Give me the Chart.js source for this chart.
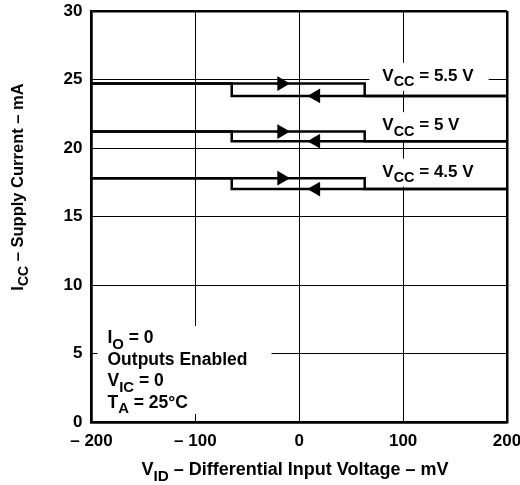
<!DOCTYPE html>
<html>
<head>
<meta charset="utf-8">
<script src="https://cdn.jsdelivr.net/npm/chart.js@4"></script>
<style>
  html, body { margin: 0; padding: 0; background: #fff; }
  #wrap { width: 520px; height: 485px; position: relative; }
</style>
</head>
<body>
<div id="wrap"><canvas id="myChart" width="520" height="485"></canvas></div>
<script>
// supply voltage curves (hysteresis loops)
const vccLabels = ['5.5', '5', '4.5'];
const iccHigh = [24.7, 21.2, 17.8];
const iccLow = [23.8, 20.5, 17.0];
const labelY = [24.9, 21.3, 17.9];
const vidRise = 63;
const vidFall = -65;
const arrowRightX = -17;
const arrowLeftX = 16;
const labelX = 80;

const xTicks = [-200, -100, 0, 100, 200];
const yTicks = [0, 5, 10, 15, 20, 25, 30];

const FONT = '"Liberation Sans", Arial, sans-serif';

var datasets = [];
for (let i = 0; i < vccLabels.length; i++) {
  // going right: stays high until vidRise
  datasets.push({
    data: [
      {x: -200, y: iccHigh[i]}, {x: vidRise, y: iccHigh[i]},
      {x: vidRise, y: iccLow[i]}, {x: 200, y: iccLow[i]}
    ],
    showLine: true, borderColor: '#000', borderWidth: 2.5, pointRadius: 0
  });
  // going left: stays low until vidFall
  datasets.push({
    data: [
      {x: 200, y: iccLow[i]}, {x: vidFall, y: iccLow[i]},
      {x: vidFall, y: iccHigh[i]}, {x: -200, y: iccHigh[i]}
    ],
    showLine: true, borderColor: '#000', borderWidth: 2.5, pointRadius: 0
  });
  datasets.push({
    data: [{x: arrowRightX, y: iccHigh[i]}],
    pointStyle: 'triangle', rotation: 90, pointRadius: 8.5,
    backgroundColor: '#000', borderColor: '#000', borderWidth: 0
  });
  datasets.push({
    data: [{x: arrowLeftX, y: iccLow[i]}],
    pointStyle: 'triangle', rotation: -90, pointRadius: 8.5,
    backgroundColor: '#000', borderColor: '#000', borderWidth: 0
  });
}

function richWidth(ctx, segs, size) {
  let w = 0;
  for (let s of segs) {
    ctx.font = 'bold ' + (s.sub ? size * 0.85 : size) + 'px ' + FONT;
    w += ctx.measureText(s.t).width;
  }
  return w;
}

function drawRich(ctx, segs, x, y, size) {
  let cx = x;
  ctx.textAlign = 'left';
  ctx.textBaseline = 'alphabetic';
  for (let s of segs) {
    ctx.font = 'bold ' + (s.sub ? size * 0.85 : size) + 'px ' + FONT;
    ctx.fillText(s.t, cx, y + (s.sub ? size * 0.32 : 0));
    cx += ctx.measureText(s.t).width;
  }
  return cx - x;
}

const noteLines = [
  [{t: 'I'}, {t: 'O', sub: true}, {t: ' = 0'}],
  [{t: 'Outputs Enabled'}],
  [{t: 'V'}, {t: 'IC', sub: true}, {t: ' = 0'}],
  [{t: 'T'}, {t: 'A', sub: true}, {t: ' = 25\u00B0C'}]
];

const textPlugin = {
  id: 'textPlugin',
  beforeDatasetsDraw(chart) {
    const ctx = chart.ctx;
    const xs = chart.scales.x, ys = chart.scales.y;
    ctx.save();
    ctx.fillStyle = '#fff';
    // white gaps behind the curve labels
    for (let i = 0; i < vccLabels.length; i++) {
      const segs = [{t: 'V'}, {t: 'CC', sub: true}, {t: ' = ' + vccLabels[i] + ' V'}];
      const px = xs.getPixelForValue(labelX);
      const py = ys.getPixelForValue(labelY[i]);
      const w = richWidth(ctx, segs, 17);
      ctx.fillRect(px - 13, py - 18, w + 28, 28);
    }
    // white gap behind the conditions block
    const a = chart.chartArea;
    ctx.fillRect(a.left + 6, a.bottom - 96, 174, 88);
    ctx.restore();
  },
  afterDatasetsDraw(chart) {
    const ctx = chart.ctx;
    const xs = chart.scales.x, ys = chart.scales.y;
    const a = chart.chartArea;
    ctx.save();
    ctx.fillStyle = '#000';
    for (let i = 0; i < vccLabels.length; i++) {
      const segs = [{t: 'V'}, {t: 'CC', sub: true}, {t: ' = ' + vccLabels[i] + ' V'}];
      drawRich(ctx, segs, xs.getPixelForValue(labelX), ys.getPixelForValue(labelY[i]), 17);
    }
    for (let j = 0; j < noteLines.length; j++) {
      drawRich(ctx, noteLines[j], a.left + 16, a.bottom - 79 + j * 21.5, 17.5);
    }
    // x axis title
    const xt = [{t: 'V'}, {t: 'ID', sub: true}, {t: ' \u2013 Differential Input Voltage \u2013 mV'}];
    const xw = richWidth(ctx, xt, 18);
    drawRich(ctx, xt, 295 - xw / 2, 475, 18);
    // y axis title
    const yt = [{t: 'I'}, {t: 'CC', sub: true}, {t: ' \u2013 Supply Current \u2013 mA'}];
    const yw = richWidth(ctx, yt, 16.5);
    ctx.translate(23, 187);
    ctx.rotate(-Math.PI / 2);
    drawRich(ctx, yt, -yw / 2, 0, 16.5);
    ctx.restore();
  }
};

function edgeWidth(ctx, min, max) {
  const v = ctx.tick ? ctx.tick.value : null;
  return (v === min || v === max) ? 2.5 : 1;
}

var chart = new Chart(document.getElementById('myChart').getContext('2d'), {
  type: 'scatter',
  data: { datasets: datasets },
  options: {
    responsive: false,
    animation: false,
    layout: { padding: { top: 11, right: 13, bottom: 0, left: 0 } },
    plugins: { legend: { display: false }, tooltip: { enabled: false } },
    scales: {
      x: {
        type: 'linear', min: -200, max: 200,
        afterBuildTicks: function(axis) { axis.ticks = xTicks.map(v => ({value: v})); },
        afterFit: function(axis) {
          axis.height = 63;
          axis.paddingLeft = 0;
          axis.paddingRight = 0;
        },
        grid: { color: '#000', lineWidth: c => edgeWidth(c, -200, 200), drawTicks: false },
        border: { color: '#000', width: 2.5 },
        ticks: {
          autoSkip: false, maxRotation: 0, padding: 9, color: '#000',
          font: { family: FONT, size: 17, weight: 'bold' },
          callback: v => v < 0 ? '\u2013 ' + Math.abs(v) : String(v)
        }
      },
      y: {
        type: 'linear', min: 0, max: 30,
        afterBuildTicks: function(axis) { axis.ticks = yTicks.map(v => ({value: v})); },
        afterFit: function(axis) {
          axis.width = 91.5;
          axis.paddingTop = 0;
          axis.paddingBottom = 0;
        },
        grid: { color: '#000', lineWidth: c => edgeWidth(c, 0, 30), drawTicks: false },
        border: { color: '#000', width: 2.5 },
        ticks: {
          padding: 9, color: '#000',
          font: { family: FONT, size: 17, weight: 'bold' }
        }
      }
    }
  },
  plugins: [textPlugin]
});
</script>
</body>
</html>
